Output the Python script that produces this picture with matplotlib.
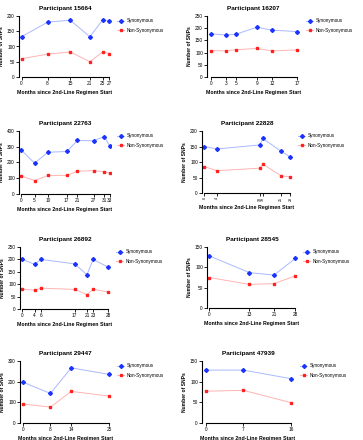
import matplotlib
matplotlib.use('Agg')
import matplotlib.pyplot as plt

plt.rcParams['font.family'] = ['Liberation Sans', 'DejaVu Sans']

# Participant data (months since 2nd-line regimen start, SNP counts)
p15664_months = [0, 8, 15, 21, 25, 27]
p15664_syn = [132, 180, 186, 132, 188, 183]
p15664_non = [60, 75, 82, 50, 83, 77]

p16207_months = [0, 3, 5, 9, 12, 17]
p16207_syn = [177, 172, 176, 204, 192, 186]
p16207_non = [108, 107, 112, 117, 107, 111]

p22763_months = [0, 5, 10, 17, 21, 27, 31, 33]
p22763_syn = [280, 196, 265, 270, 340, 338, 365, 305]
p22763_non = [115, 85, 118, 118, 145, 148, 142, 132]

p22828_months = [0, 4, 18, 19, 25, 28]
p22828_syn = [150, 142, 155, 176, 134, 116]
p22828_non = [85, 72, 80, 93, 55, 52]

p26892_months = [0, 4, 6, 17, 21, 23, 28]
p26892_syn = [200, 180, 200, 182, 138, 200, 168]
p26892_non = [80, 76, 84, 79, 58, 80, 68]

p28545_months = [0, 13, 21, 28]
p28545_syn = [128, 87, 81, 122]
p28545_non = [75, 58, 60, 79]

p29447_months = [0, 8, 14, 25]
p29447_syn = [198, 143, 267, 235]
p29447_non = [92, 77, 153, 130]

p47939_months = [0, 7, 16]
p47939_syn = [128, 128, 107]
p47939_non = [77, 79, 49]

panels = [
    ('15664', p15664_months, p15664_syn, p15664_non, 200, 50),
    ('16207', p16207_months, p16207_syn, p16207_non, 250, 50),
    ('22763', p22763_months, p22763_syn, p22763_non, 400, 100),
    ('22828', p22828_months, p22828_syn, p22828_non, 200, 50),
    ('26892', p26892_months, p26892_syn, p26892_non, 250, 50),
    ('28545', p28545_months, p28545_syn, p28545_non, 150, 50),
    ('29447', p29447_months, p29447_syn, p29447_non, 300, 100),
    ('47939', p47939_months, p47939_syn, p47939_non, 150, 50),
]

# axes boxes in pixels: left, top, right, bottom
boxes = [
    (19, 16, 111, 77), (207, 16, 300, 77),
    (19, 131, 111, 194), (202, 131, 292, 193),
    (20, 247, 110, 309), (207, 247, 297, 308),
    (20, 361, 111, 423), (202, 361, 294, 423),
]

W, H = 363, 440
fig = plt.figure(figsize=(W / 100, H / 100), dpi=100)

syn_line = '#aab9ff'
syn_mark = '#1a33ff'
non_line = '#ffb3b3'
non_mark = '#ff2020'

for (pid, months, syn, non, ymax, ystep), (l, t, r, b) in zip(panels, boxes):
    ax = fig.add_axes([l / W, 1 - b / H, (r - l) / W, (b - t) / H])
    ax.plot(months, syn, color=syn_line, lw=0.7, marker='D', ms=2.0,
            mfc=syn_mark, mec=syn_mark, label='Synonymous')
    ax.plot(months, non, color=non_line, lw=0.7, marker='s', ms=2.0,
            mfc=non_mark, mec=non_mark, label='Non-Synonymous')
    ax.set_ylim(0, ymax)
    ax.set_yticks(range(0, ymax + 1, ystep))
    ax.set_xlim(-0.8, months[-1] + 0.5)
    ax.set_xticks(months)
    if pid == '22828':
        ax.set_xticklabels([str(m) for m in months], rotation=90, fontsize=2.6)
    else:
        ax.set_xticklabels([str(m) for m in months])
    for s in ['top', 'right']:
        ax.spines[s].set_visible(False)
    for s in ['left', 'bottom']:
        ax.spines[s].set_linewidth(0.8)
    ax.spines['bottom'].set_bounds(0, months[-1])
    ax.tick_params(labelsize=3.4, width=0.6, length=2, pad=1)
    if pid == '22828':
        ax.tick_params(axis='x', labelsize=2.6)
    ax.set_title('Participant ' + pid, fontsize=4.6, fontweight='bold', pad=4)
    ax.set_xlabel('Months since 2nd-Line Regimen Start', fontsize=3.8,
                  fontweight='bold', labelpad=3)
    ax.set_ylabel('Number of SNPs', fontsize=3.6, fontweight='bold', labelpad=2)
    ax.legend(loc='upper left', bbox_to_anchor=(1.04, 1.0), frameon=False,
              fontsize=3.3, handlelength=1.6, handletextpad=0.6,
              labelspacing=1.0, borderpad=0)

plt.savefig('out.png', dpi=100)
